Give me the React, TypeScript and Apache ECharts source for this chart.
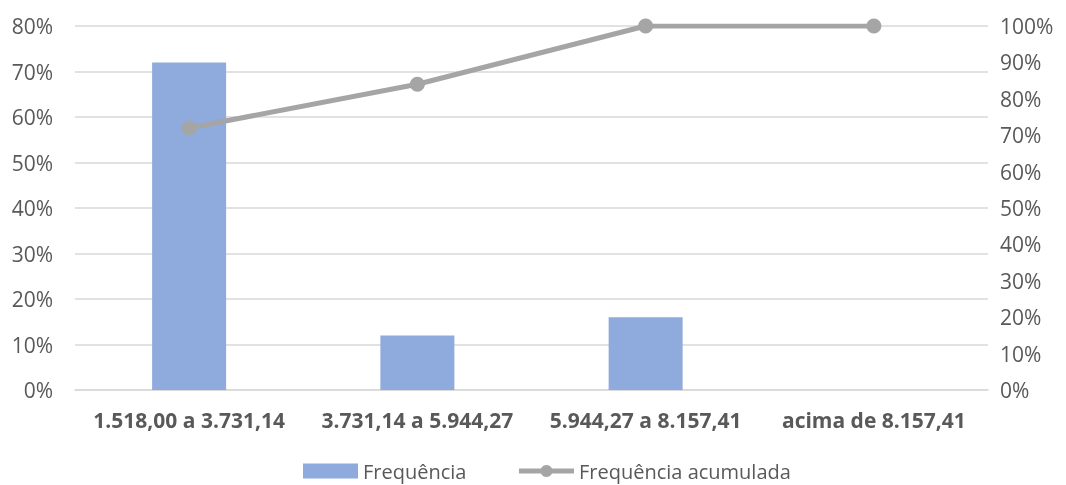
import React, { useEffect, useRef } from "react";
import * as echarts from "echarts";

const categories = ["1.518,00 a 3.731,14", "3.731,14 a 5.944,27", "5.944,27 a 8.157,41", "acima de 8.157,41"];
const frequencia = [72, 12, 16, 0];
const acumulada = [72, 84, 100, 100];

export default function App() {
  const ref = useRef<HTMLDivElement>(null);
  useEffect(() => {
    const chart = echarts.init(ref.current!, null, { renderer: "svg" });
    const font = "'Open Sans', sans-serif";
    chart.setOption({
      animation: false,
      textStyle: { fontFamily: font },
      grid: { left: 75, right: 78, top: 26, bottom: 95 },
      legend: {
        top: 454,
        left: 298,
        itemWidth: 55,
        itemHeight: 15,
        itemGap: 50,
        textStyle: { fontSize: 20, lineHeight: 24, color: "#595959", fontFamily: font },
        data: [
          { name: "Frequência", icon: "rect" },
          { name: "Frequência acumulada", lineStyle: { width: 5 } },
        ],
      },
      xAxis: {
        type: "category",
        data: categories,
        axisLine: { show: true, lineStyle: { color: "#D9D9D9", width: 1.5 } },
        axisTick: { show: false },
        axisLabel: { interval: 0, fontSize: 21, fontWeight: "bold", color: "#595959", margin: 19, fontFamily: font },
      },
      yAxis: [
        {
          type: "value",
          min: 0,
          max: 80,
          interval: 10,
          axisLabel: { formatter: "{value}%", fontSize: 21, color: "#595959", margin: 22, fontFamily: font },
          axisLine: { show: false },
          axisTick: { show: false },
          splitLine: { lineStyle: { color: "#D9D9D9", width: 1.5 } },
        },
        {
          type: "value",
          min: 0,
          max: 100,
          interval: 10,
          position: "right",
          axisLabel: { formatter: "{value}%", fontSize: 21, color: "#595959", margin: 12, fontFamily: font },
          axisLine: { show: false },
          axisTick: { show: false },
          splitLine: { show: false },
        },
      ],
      series: [
        {
          name: "Frequência",
          type: "bar",
          data: frequencia,
          barWidth: 74,
          itemStyle: { color: "#8FAADC" },
          yAxisIndex: 0,
        },
        {
          name: "Frequência acumulada",
          type: "line",
          data: acumulada,
          yAxisIndex: 1,
          symbol: "circle",
          symbolSize: 15,
          lineStyle: { color: "#A5A5A5", width: 5 },
          itemStyle: { color: "#A5A5A5" },
        },
      ],
    });
    return () => chart.dispose();
  }, []);
  return <div ref={ref} style={{ position: "fixed", left: 0, top: 0, width: 1066, height: 485 }} />;
}
